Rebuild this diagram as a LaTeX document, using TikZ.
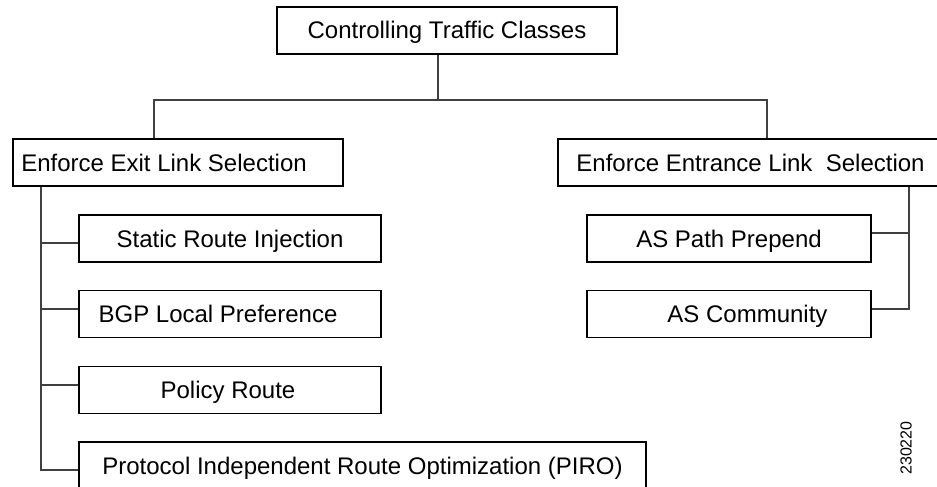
\documentclass[tikz,border=0pt]{standalone}
\usepackage{fontspec}
\setmainfont{Liberation Sans}
\usepackage{tikz}

\tikzset{
  box/.style={draw,line width=1.1pt,minimum height=47pt,inner sep=0pt,
    text height=17pt,text depth=0pt,font=\fontsize{24}{28}\selectfont},
  link/.style={draw=black!75,line width=1.1pt},
}

\begin{document}
\begin{tikzpicture}[x=1pt,y=-1pt]
  \clip (0,0) rectangle (937,487);

  \node[box,minimum width=340pt](top) at (447,30.5){Controlling Traffic Classes};
  \node[box,minimum width=330pt](exit) at (178,162.5){Enforce Exit Link Selection\hspace*{28pt}};
  \node[box,minimum width=385pt](entrance) at (750.5,162.5){Enforce Entrance Link\ \ Selection};

  \node[box,minimum width=302pt](static) at (230,238.5){Static Route Injection};
  \node[box,minimum width=302pt](bgp)    at (230,314)  {BGP Local Preference\hspace*{24pt}};
  \node[box,minimum width=302pt](policy) at (230,390)  {Policy Route\hspace*{4pt}};
  \node[box,minimum width=567pt](piro)   at (362.5,465.5){Protocol Independent Route Optimization (PIRO)};

  \node[box,minimum width=284pt](aspath)    at (729,238.5){AS Path Prepend};
  \node[box,minimum width=284pt](community) at (729,314)  {\hspace*{37pt}AS Community};

  \node[rotate=90,font=\fontsize{16}{18}\selectfont](figno) at (906,448){230220};

  % tree lines
  \coordinate (fork)   at (438,100);
  \coordinate (ldrop)  at (154,100);
  \coordinate (rdrop)  at (767,100);
  \coordinate (lspine) at (41,186);
  \coordinate (rspine) at (909,186);

  \draw[link] (top.south -| fork) -- (fork);
  \draw[link] (exit.north -| ldrop) -- (ldrop) -- (rdrop) -- (entrance.north -| rdrop);

  \draw[link] (exit.south -| lspine) |- ([yshift=-4.5pt]piro.west);
  \draw[link] ([yshift=-4.5pt]static.west) -- ([yshift=-4.5pt]static.west -| lspine);
  \draw[link] ([yshift=5pt]bgp.west) -- ([yshift=5pt]bgp.west -| lspine);
  \draw[link] ([yshift=5pt]policy.west) -- ([yshift=5pt]policy.west -| lspine);

  \draw[link] (entrance.south -| rspine) |- ([yshift=5pt]community.east);
  \draw[link] ([yshift=5.5pt]aspath.east) -- ([yshift=5.5pt]aspath.east -| rspine);
\end{tikzpicture}
\end{document}
